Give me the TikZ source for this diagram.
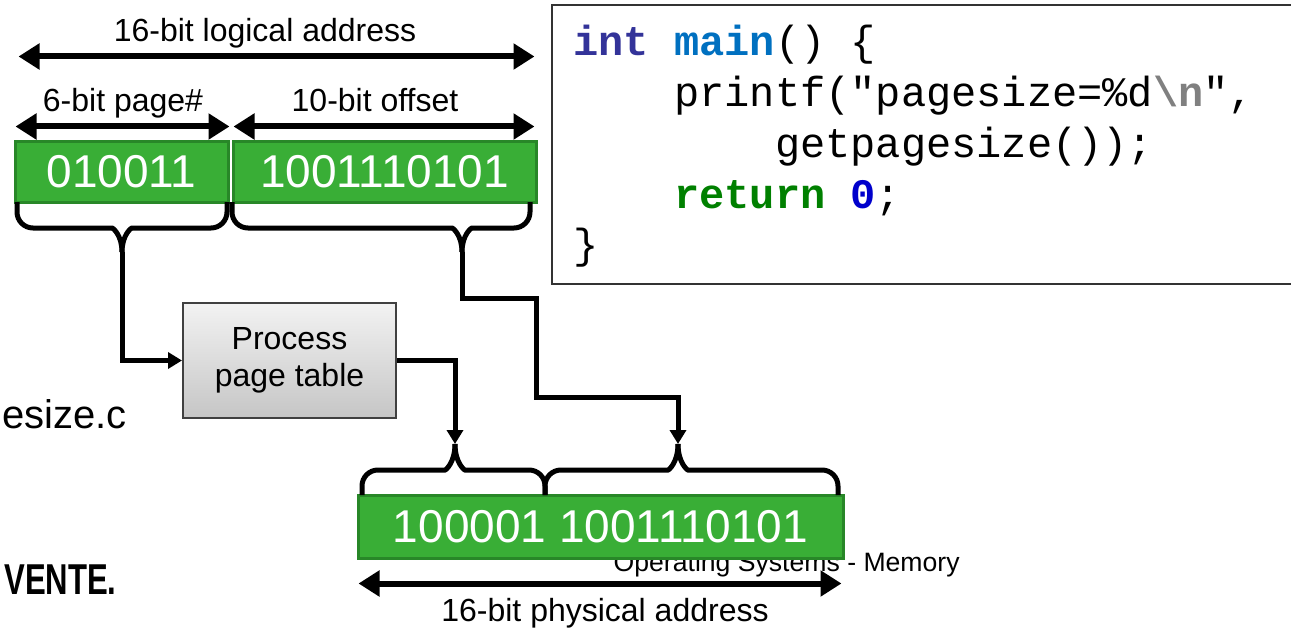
\documentclass[tikz,border=0pt]{standalone}
\usepackage{fontspec}
\setmainfont{Liberation Sans}
\newfontfamily\codefont{Liberation Mono}
\usetikzlibrary{arrows.meta}
\definecolor{bitgreen}{RGB}{57,174,54}
\definecolor{bitedge}{RGB}{40,135,40}
\definecolor{kwint}{RGB}{51,51,153}
\definecolor{kwmain}{RGB}{0,112,192}
\definecolor{kwret}{RGB}{0,128,0}
\definecolor{numblue}{RGB}{0,0,204}
\definecolor{escgray}{RGB}{128,128,128}
\tikzstyle{bitfield} = [draw=bitedge,line width=1.5pt,fill=bitgreen,text=white,inner sep=0pt,
    minimum height=30pt,font=\fontsize{23}{23}\selectfont]
\tikzstyle{widtharrow} = [line width=3pt,{Triangle[length=10.5pt,width=12.5pt]}-{Triangle[length=10.5pt,width=12.5pt]}]
\tikzstyle{bracket} = [line width=2.5pt,rounded corners=8pt]
\tikzstyle{link} = [line width=2.5pt,-{Triangle[length=7pt,width=8pt]}]
\tikzstyle{lbl} = [inner sep=0pt,anchor=base,font=\fontsize{16}{19}\selectfont]
\tikzstyle{codeln} = [inner sep=0pt,anchor=base west,font=\codefont\fontsize{21}{25}\selectfont]
\tikzstyle{lookup} = [draw=black!75,line width=1pt,top color=gray!10,bottom color=gray!45,
    minimum width=106.5pt,minimum height=57.5pt,align=center,font=\fontsize{16}{18.5}\selectfont]
\newcommand{\bitbrace}[6]{
    \draw[bracket] (#1,#4) |- ({#3-26},#5) [sharp corners] .. controls ({#3-9},#5) and (#3,{#5+0.3*(#6-#5)}) .. (#3,#6);
    \draw[bracket] (#2,#4) |- ({#3+26},#5) [sharp corners] .. controls ({#3+9},#5) and (#3,{#5+0.3*(#6-#5)}) .. (#3,#6);
}
\newcommand{\kw}[2]{\textcolor{#1}{\bfseries #2}}

\begin{document}
\begin{tikzpicture}[x=0.5pt,y=-0.5pt]
	\useasboundingbox (0,0) rectangle (1291,631);
	
	\node(footer) at (960,571) [anchor=base east,inner sep=0pt,font=\fontsize{13.3}{16}\selectfont] {Operating Systems - Memory};
	\node(fname) at (127,428) [anchor=base east,inner sep=0pt,font=\fontsize{20}{24}\selectfont] {esize.c};
	\node(logo) at (117,594) [anchor=base east,inner sep=0pt,font=\bfseries\fontsize{21.6}{24}\selectfont] {\scalebox{0.72}[1]{VENTE.}};
	
	\node(page) at (121.5,172) [bitfield,minimum width=106.5pt] {010011};
	\node(off) at ([xshift=1pt]page.east) [bitfield,minimum width=151.5pt,anchor=west] {1001110101};
	\node(phys) at (600.5,526.5) [bitfield,minimum width=242.5pt,minimum height=31.5pt] {100001 1001110101};
	
	\draw[widtharrow] ([shift={(5,-84)}]page.north west) -- ([shift={(-3,-84)}]off.north east);
	\draw[widtharrow] ([shift={(2,-14)}]page.north west) -- ([shift={(0,-14)}]page.north east);
	\draw[widtharrow] ([shift={(2,-14)}]off.north west) -- ([shift={(-3,-14)}]off.north east);
	\draw[widtharrow] ([shift={(2,24)}]phys.south west) -- ([shift={(-3,24)}]phys.south east);
	
	\node(lbllog) at (265,42) [lbl] {16-bit logical address};
	\node(lblpage) at (123,112) [lbl] {6-bit page\#};
	\node(lbloff) at (375,112) [lbl] {10-bit offset};
	\node(lblphys) at (605,621) [lbl] {16-bit physical address};
	
	\bitbrace{17}{227}{122}{202}{228}{252};
	\bitbrace{232}{530}{462}{202}{228}{252};
	\bitbrace{362}{545}{455}{495}{470}{444};
	\bitbrace{545}{838}{678}{495}{470}{444};
	\coordinate(tpage) at (122,252);
	\coordinate(toff) at (462,252);
	\coordinate(bframe) at (455,444);
	\coordinate(boff) at (678,444);
	\coordinate(jog1) at (536,298);
	\coordinate(jog2) at (678,397);
	
	\node(ptable) at (289.5,360.5) [lookup] {Process\\page table};
	
	\draw[link] (tpage) |- (ptable.west);
	\draw[link] (ptable.east) -| (bframe);
	\draw[link] (toff) |- (jog1) |- (jog2) -- (boff);
	
	\node(codebox) at (551,4) [anchor=north west,draw=black!80,line width=1pt,minimum width=380pt,minimum height=139.5pt,inner sep=0pt] {};
	\node(ln1) at (573,56) [codeln] {\kw{kwint}{int} \kw{kwmain}{main}() \{};
	\node(ln2) at (573,107) [codeln] {\phantom{0000}printf("pagesize=\%d\kw{escgray}{\textbackslash n}",};
	\node(ln3) at (573,158) [codeln] {\phantom{00000000}getpagesize());};
	\node(ln4) at (573,208) [codeln] {\phantom{0000}\kw{kwret}{return} \kw{numblue}{0};};
	\node(ln5) at (573,258) [codeln] {\}};
\end{tikzpicture}
\end{document}
